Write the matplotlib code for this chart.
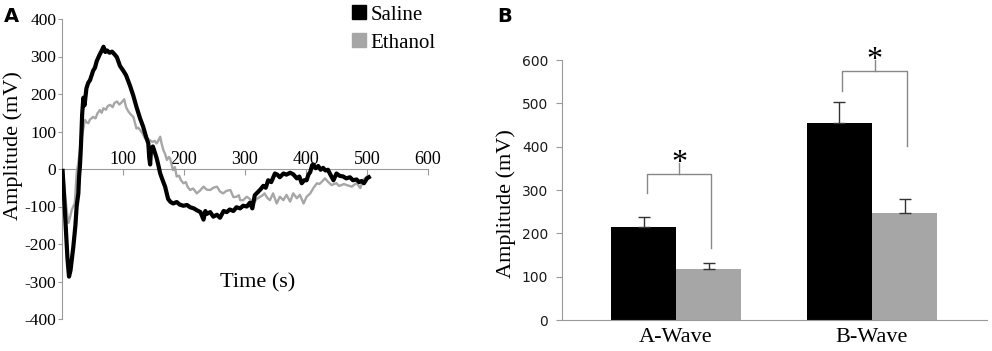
import matplotlib
matplotlib.use("Agg")
import matplotlib.pyplot as plt
from matplotlib.lines import Line2D

plt.rcParams['font.family'] = ['Liberation Serif', 'DejaVu Serif']
plt.rcParams['axes.unicode_minus'] = False

# ---------------- Panel A data ----------------
time_saline = [1, 3, 6, 9, 11.5, 14, 18.6, 22, 24, 26.8, 28, 29.5, 31, 32, 33, 35, 37, 40, 43, 46,
               51, 54, 57, 62, 65, 68, 71, 74, 78, 82, 86, 90, 95, 100.5, 105, 111.5, 117, 122, 128,
               133, 138, 141.5, 143, 144.5, 146, 149, 152, 155, 158, 161, 165, 169, 174, 178, 182.5,
               188, 193, 199, 205, 210, 216, 221, 227, 232, 235, 237, 243, 248, 254, 259, 265, 270,
               275, 281, 286, 292, 297, 303, 308, 312, 316, 319, 325, 330, 334, 338, 343, 349, 353,
               357, 363, 368, 374, 379, 385, 389, 393, 397, 401, 404, 407, 410, 412, 416, 420, 424,
               428, 432, 436, 440, 445, 450, 455, 461, 466, 472, 477, 483, 487, 491, 495, 500, 503]
amp_saline = [-5, -60, -150, -240, -287, -270, -207, -150, -100, -65, -20, 10, 60, 100, 145, 190, 170,
              215, 230, 237, 262, 270, 288, 306, 315, 326, 312, 316, 310, 313, 306, 298, 275, 262,
              250, 222, 195, 166, 135, 113, 85, 68, 30, 12, 55, 60, 45, 30, 10, -12, -30, -47, -80,
              -88, -92, -88, -95, -98, -96, -102, -105, -110, -115, -135, -112, -120, -115, -127,
              -122, -130, -112, -115, -108, -112, -102, -105, -98, -100, -90, -105, -70, -65, -55,
              -45, -50, -30, -35, -12, -15, -22, -12, -15, -10, -14, -25, -20, -38, -30, -30, -15,
              -8, 10, 12, 2, 8, -2, 3, -4, -2, -15, -30, -12, -18, -20, -25, -22, -30, -28, -35,
              -32, -38, -25, -22]

time_ethanol = [1, 4, 7, 10.4, 13, 16, 21, 24, 27, 29.5, 33, 37.7, 40, 43, 46, 51, 55, 58, 62, 65,
                68, 72, 75, 79, 83, 86, 90, 94, 98, 102, 105, 109, 113, 117, 122, 125, 128, 132,
                136, 140, 144, 148, 152, 155, 158, 161, 163, 166, 169, 172, 175, 177, 182, 185, 188,
                192, 195, 199, 203, 206, 210, 215, 221, 226, 232, 237, 243, 248, 254, 259, 264, 270,
                276, 281, 286, 290, 292, 297, 303, 308, 314, 319, 325, 329, 332, 337, 341, 346, 352,
                357, 363, 368, 374, 379, 385, 390, 396, 401, 407, 412, 418, 422, 426, 431, 436, 442,
                446, 450, 454, 458, 462, 467, 471, 475, 479, 483, 486, 489, 494, 500]
amp_ethanol = [-5, -50, -100, -144, -130, -109, -91, -11, 20, 51, 90, 131, 125, 122, 132, 139, 135,
               148, 157, 150, 162, 158, 168, 171, 165, 176, 180, 172, 178, 186, 165, 153, 145, 139,
               108, 110, 104, 95, 82, 80, 77, 72, 75, 68, 76, 86, 70, 51, 40, 24, 32, 29, -3, 5,
               -20, -18, -30, -38, -35, -48, -56, -52, -65, -58, -47, -55, -56, -50, -47, -60, -65,
               -58, -56, -75, -74, -70, -83, -83, -74, -80, -92, -80, -74, -70, -65, -78, -83, -65,
               -92, -74, -83, -69, -87, -65, -78, -69, -92, -74, -65, -51, -38, -40, -34, -25, -34,
               -43, -40, -38, -45, -43, -40, -43, -45, -47, -42, -38, -44, -51, -29, -20]

time_ticks = [100, 200, 300, 400, 500, 600]
amp_ticks_a = [-400, -300, -200, -100, 0, 100, 200, 300, 400]

# ---------------- Panel B data ----------------
waves = ['A-Wave', 'B-Wave']
saline_mean = [215, 455]
saline_err = [23, 48]
ethanol_mean = [117, 247]
ethanol_err = [14, 32]
amp_ticks_b = [0, 100, 200, 300, 400, 500, 600]

BLACK = '#000000'
GRAY = '#a6a6a6'
AXGRAY = '#9a9a9a'

fig = plt.figure(figsize=(9.92, 3.51), dpi=100)

# ================= Panel A =================
axA = fig.add_axes([62/992, 1 - 319/351, (428 - 62)/992, 300/351])
axA.plot(time_ethanol, amp_ethanol, color=GRAY, lw=1.7, zorder=2)
axA.plot(time_saline, amp_saline, color=BLACK, lw=3.0, zorder=3)
axA.set_xlim(0, 600)
axA.set_ylim(-400, 400)
for s in ['right', 'bottom']:
    axA.spines[s].set_visible(False)
axA.spines['top'].set_position(('data', 0))
axA.spines['top'].set_color(AXGRAY)
axA.spines['left'].set_color(AXGRAY)
axA.xaxis.tick_top()
axA.set_xticks(time_ticks)
axA.tick_params(axis='x', direction='in', length=4, color=AXGRAY, labelsize=13, pad=1)
axA.set_yticks(amp_ticks_a)
axA.tick_params(axis='y', direction='out', length=3, color=AXGRAY, labelsize=12.5, pad=1)
axA.set_ylabel('Amplitude (mV)', fontsize=16)
axA.yaxis.set_label_coords(23/992, 1 - 146/351, transform=fig.transFigure)
axA.text(258/992, 1 - 283/351, 'Time (s)', fontsize=16, ha='center', va='center',
         transform=fig.transFigure)
axA.patch.set_alpha(0)

handles = [Line2D([], [], marker='s', color=BLACK, linestyle='none', markersize=10.5),
           Line2D([], [], marker='s', color=GRAY, linestyle='none', markersize=10.5)]
fig.legend(handles, ['Saline', 'Ethanol'], loc='upper left',
           bbox_to_anchor=(352/992, 1 - 5/351), frameon=False, fontsize=15,
           handlelength=0.7, handletextpad=0.2, borderpad=0, borderaxespad=0,
           labelspacing=0.4)

fig.text(4/992, 1 - 16/351, 'A', fontsize=14, fontweight='heavy', family='DejaVu Sans',
         ha='left', va='center')

# ================= Panel B =================
axB = fig.add_axes([562/992, 1 - 320/351, (987 - 562)/992, 260/351])
pos = list(range(len(waves)))
w = 0.332
xs = [p - w/2 for p in pos]
xe = [p + w/2 for p in pos]
axB.bar(xs, saline_mean, width=w, color=BLACK, zorder=2)
axB.bar(xe, ethanol_mean, width=w, color=GRAY, zorder=2)
axB.errorbar(xs, saline_mean, yerr=[[0]*2, saline_err], fmt='none', ecolor='#333333',
             elinewidth=1, capsize=4, capthick=1, zorder=3)
axB.errorbar(xe, ethanol_mean, yerr=[[0]*2, ethanol_err], fmt='none', ecolor='#333333',
             elinewidth=1, capsize=4, capthick=1, zorder=3)
axB.set_xlim(-0.582, 1.587)
axB.set_ylim(0, 600)
for s in ['right', 'top']:
    axB.spines[s].set_visible(False)
axB.spines['left'].set_color(AXGRAY)
axB.spines['bottom'].set_color(AXGRAY)
axB.set_xticks(pos)
axB.set_xticklabels(waves)
axB.tick_params(axis='x', length=0, labelsize=16, pad=6)
axB.set_yticks(amp_ticks_b)
axB.tick_params(axis='y', direction='out', length=4, color=AXGRAY, labelsize=10, pad=6)
for lab in axB.get_yticklabels():
    lab.set_family('DejaVu Sans')
    lab.set_color('#1a1a1a')
axB.set_ylabel('Amplitude (mV)', fontsize=16)
axB.yaxis.set_label_coords(516/992, 1 - 204/351, transform=fig.transFigure)

# significance brackets
brackets = [  # (left x, right x, left bottom, right bottom, top, stem top, star y)
    (-0.15, 0.18, 292, 167, 337, 363, 388),
    (0.847, 1.179, 529, 402, 575, 600, 625),
]
for lx, rx, lb, rb, top, stem, sy in brackets:
    cx = (lx + rx) / 2
    axB.plot([lx, lx, rx, rx], [lb, top, top, rb], color='#888888', lw=1, zorder=4)
    axB.plot([cx, cx], [top, stem], color='#888888', lw=1, zorder=4, clip_on=False)
    axB.text(cx, sy - 26, '*', fontsize=23, ha='center', va='center', zorder=5,
             clip_on=False)

fig.text(497/992, 1 - 16/351, 'B', fontsize=14, fontweight='heavy', family='DejaVu Sans',
         ha='left', va='center')

fig.savefig('out.png', dpi=100)
